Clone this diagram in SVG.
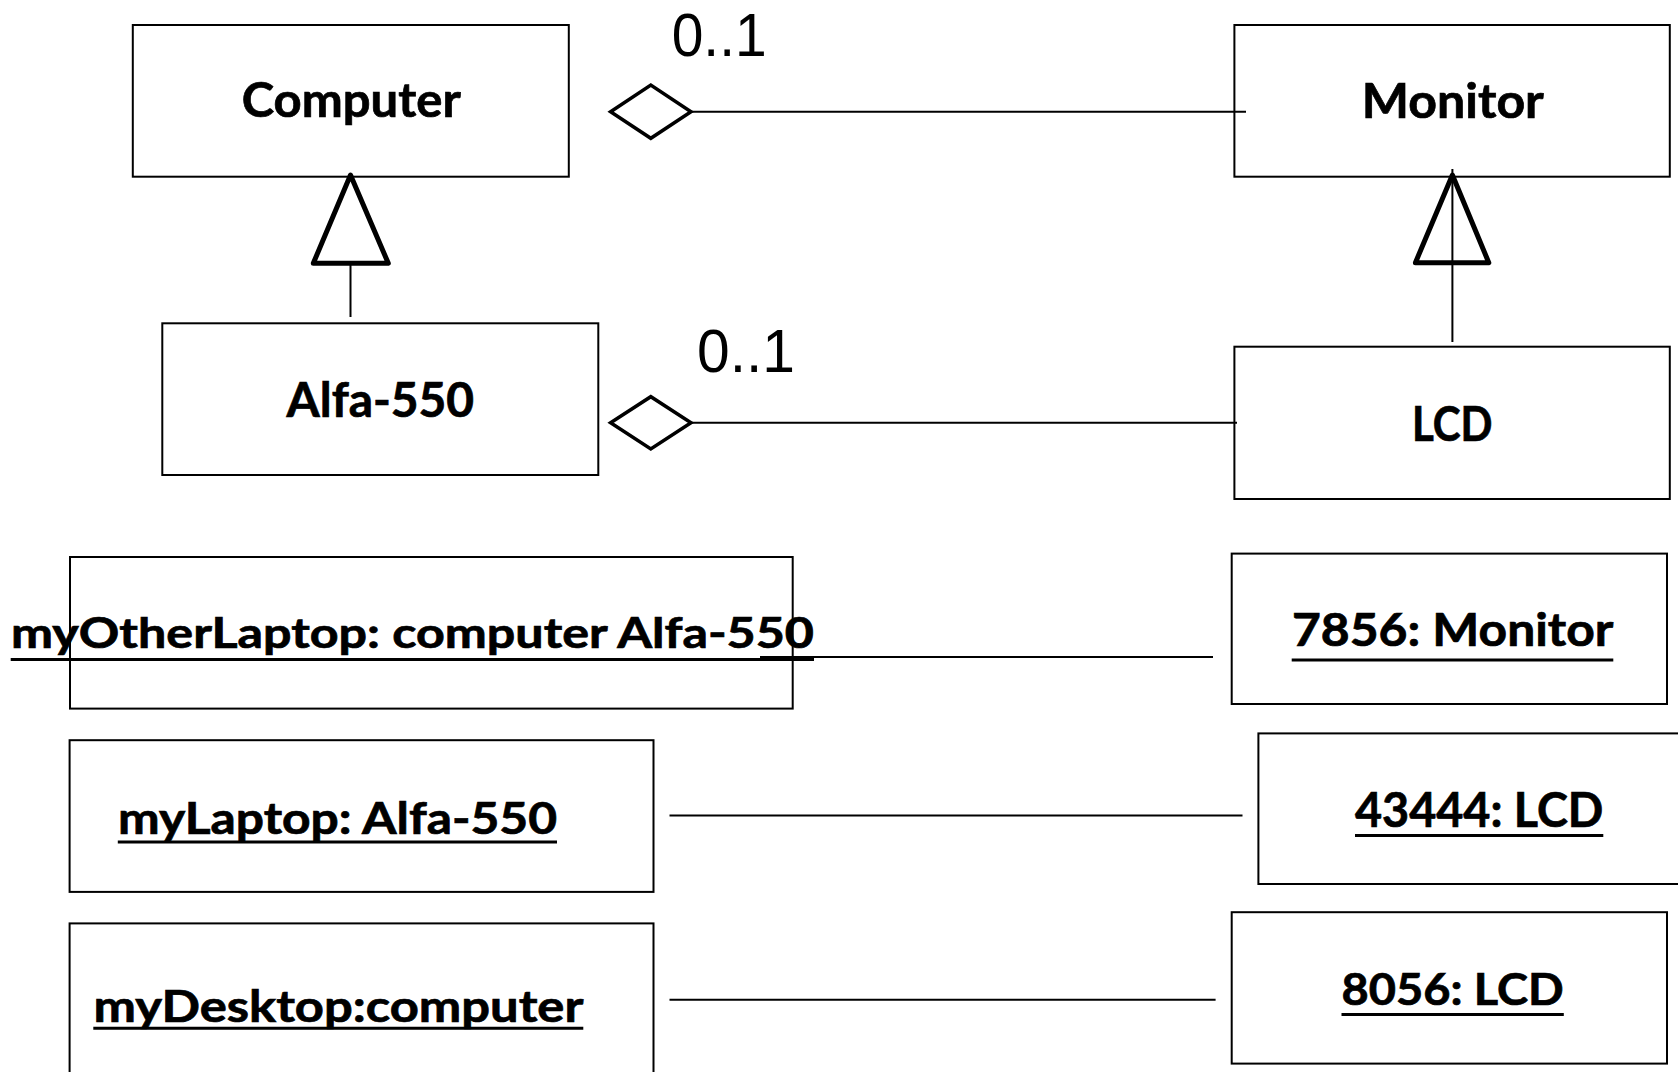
<svg xmlns="http://www.w3.org/2000/svg" width="1678" height="1072" viewBox="0 0 1678 1072">
<style>
.box{fill:none;stroke:#000;stroke-width:2}
.lbl{font-family:Lato,"Open Sans","Liberation Sans",sans-serif;font-weight:700;fill:#000;stroke:#000;stroke-width:0.7}
.mult{font-family:"Liberation Sans",Arial,sans-serif;font-size:61px;fill:#000}
.ul{stroke:#000;stroke-width:3}
.conn{stroke:#000;stroke-width:2;fill:none}
.dia{fill:#fff;stroke:#000;stroke-width:3.5;stroke-linejoin:miter}
.tri{fill:#fff;stroke:#000;stroke-width:5;stroke-linejoin:round}
</style>
<rect width="1678" height="1072" fill="#fff"/>
<g id="connectors">
  <line class="conn" x1="691" y1="111.7" x2="1246" y2="111.7"/>
  <polygon class="dia" points="610.6,111.7 650.8,85 691,111.7 650.8,138.3"/>
  <line class="conn" x1="691" y1="422.7" x2="1237" y2="422.7"/>
  <polygon class="dia" points="610.6,422.7 650.8,396.7 691,422.7 650.8,449"/>
  <line class="conn" x1="350.5" y1="263" x2="350.5" y2="317"/>
  <polygon class="tri" points="350.5,175 388.3,263.3 313.3,263.3"/>
  <polygon class="tri" points="1452.4,175 1488.8,262.7 1415.4,262.7"/>
  <line class="conn" x1="1452.4" y1="169" x2="1452.4" y2="342"/>
  <line class="conn" x1="760" y1="657" x2="1213" y2="657"/>
  <line class="conn" x1="669.5" y1="815.5" x2="1242.5" y2="815.5"/>
  <line class="conn" x1="669.5" y1="999.8" x2="1215.6" y2="999.8"/>
  <text class="mult" x="671.7" y="56" textLength="95" lengthAdjust="spacingAndGlyphs">0..1</text>
  <text class="mult" x="697" y="371.7" textLength="98" lengthAdjust="spacingAndGlyphs">0..1</text>
</g>
<g id="computer">
  <rect class="box" x="132.8" y="25" width="436" height="151.7"/>
  <text class="lbl" x="241.7" y="117.3" font-size="48" textLength="219" lengthAdjust="spacingAndGlyphs">Computer</text>
</g>
<g id="monitor">
  <rect class="box" x="1234.4" y="25" width="435.4" height="151.7"/>
  <text class="lbl" x="1361.8" y="118.3" font-size="48" textLength="182" lengthAdjust="spacingAndGlyphs">Monitor</text>
</g>
<g id="alfa550">
  <rect class="box" x="162.3" y="323.3" width="436" height="151.7"/>
  <text class="lbl" x="286.6" y="416.7" font-size="47" textLength="187.4" lengthAdjust="spacingAndGlyphs">Alfa-550</text>
</g>
<g id="lcd">
  <rect class="box" x="1234.4" y="346.7" width="435.4" height="152.3"/>
  <text class="lbl" x="1412" y="440.7" font-size="47" textLength="80.5" lengthAdjust="spacingAndGlyphs">LCD</text>
</g>
<g id="myOtherLaptop">
  <rect class="box" x="70" y="557" width="722.7" height="151.6"/>
  <text class="lbl" x="11" y="648" font-size="42" textLength="803" lengthAdjust="spacingAndGlyphs">myOtherLaptop: computer Alfa-550</text>
  <line class="ul" x1="10.7" y1="659.5" x2="814" y2="659.5"/>
</g>
<g id="myLaptop">
  <rect class="box" x="69.6" y="740.2" width="583.9" height="151.7"/>
  <text class="lbl" x="118" y="834" font-size="44" textLength="439" lengthAdjust="spacingAndGlyphs">myLaptop: Alfa-550</text>
  <line class="ul" x1="117.8" y1="842" x2="557" y2="842"/>
</g>
<g id="myDesktop">
  <rect class="box" x="69.6" y="923.4" width="583.9" height="160"/>
  <text class="lbl" x="93.5" y="1021.7" font-size="44" textLength="489.8" lengthAdjust="spacingAndGlyphs">myDesktop:computer</text>
  <line class="ul" x1="93.3" y1="1028.3" x2="583.3" y2="1028.3"/>
</g>
<g id="monitor7856">
  <rect class="box" x="1231.7" y="553.6" width="435.3" height="150.4"/>
  <text class="lbl" x="1292" y="646" font-size="45" textLength="321.3" lengthAdjust="spacingAndGlyphs">7856: Monitor</text>
  <line class="ul" x1="1291.7" y1="660" x2="1613.3" y2="660"/>
</g>
<g id="lcd43444">
  <rect class="box" x="1258.4" y="733.4" width="440" height="150.6"/>
  <text class="lbl" x="1355" y="826.7" font-size="47.5" textLength="248.3" lengthAdjust="spacingAndGlyphs">43444: LCD</text>
  <line class="ul" x1="1355" y1="835.5" x2="1603.3" y2="835.5"/>
</g>
<g id="lcd8056">
  <rect class="box" x="1231.7" y="912.2" width="435.3" height="151.4"/>
  <text class="lbl" x="1341.5" y="1005" font-size="44" textLength="222.3" lengthAdjust="spacingAndGlyphs">8056: LCD</text>
  <line class="ul" x1="1341.5" y1="1014.4" x2="1563.8" y2="1014.4"/>
</g>
</svg>
